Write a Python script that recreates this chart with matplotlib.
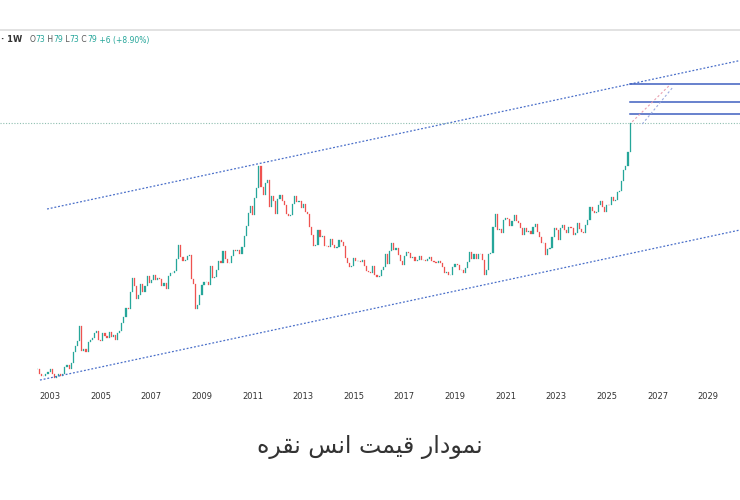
import matplotlib
matplotlib.use("Agg")
import matplotlib.pyplot as plt
import numpy as np
from matplotlib.lines import Line2D

closes = [4.9,4.6,4.5,4.5,4.6,4.7,
4.9,4.6,4.4,4.5,4.6,4.5,4.6,5.0,5.1,4.9,5.2,5.9,
6.3,6.7,7.9,6.0,6.1,5.9,6.6,6.8,6.9,7.3,7.5,6.8,
6.7,7.3,7.1,6.9,7.4,7.0,7.2,6.8,7.3,7.5,8.2,8.8,
9.7,9.6,11.6,13.7,12.5,10.8,11.3,12.8,11.6,12.5,14.0,12.9,
13.4,14.2,13.3,13.6,13.5,12.4,12.9,12.1,13.9,14.5,14.5,14.8,
16.9,19.8,17.3,16.5,16.8,17.6,17.7,13.5,12.8,9.6,10.1,11.3,
12.6,13.1,13.1,12.6,15.6,13.6,13.8,14.9,16.6,16.2,18.6,16.9,
16.2,16.1,17.5,18.7,18.5,18.7,18.0,19.3,22.0,24.5,28.6,30.9,
27.9,33.8,37.9,48.6,38.4,34.9,40.0,41.6,30.5,34.5,32.7,28.2,
33.2,34.9,32.6,31.3,28.2,27.5,27.8,31.4,34.6,32.2,32.8,30.0,
31.7,28.8,28.3,24.2,22.3,19.6,19.9,23.5,21.7,21.9,19.5,19.5,
19.3,21.2,19.8,19.1,19.3,21.0,20.4,19.5,17.1,16.1,15.5,15.6,
17.2,16.6,16.6,16.3,16.8,15.6,14.7,14.6,14.5,15.6,14.1,13.8,
14.0,15.0,15.4,18.0,16.0,18.6,20.3,18.7,19.2,17.7,16.5,15.9,
17.5,18.3,18.1,17.2,17.4,16.6,16.7,17.5,16.7,16.7,16.5,17.0,
17.3,16.5,16.4,16.2,16.5,16.1,15.5,14.4,14.6,14.2,14.2,15.5,
16.0,15.8,15.0,14.9,14.5,15.3,16.4,18.4,17.0,18.0,17.0,17.9,
18.0,16.8,14.2,15.0,18.0,18.2,24.4,28.1,23.6,23.9,22.7,26.4,
26.9,26.7,24.5,25.9,27.9,26.1,25.5,24.0,22.1,24.0,23.0,23.3,
22.4,24.2,25.1,23.0,21.7,20.3,20.3,17.8,19.0,19.2,21.7,24.0,
23.6,20.9,24.1,25.0,23.5,22.8,24.3,24.1,22.3,22.8,25.3,23.8,
22.9,22.7,24.9,26.4,30.4,29.1,28.6,28.9,31.1,32.7,30.6,28.9,
31.3,31.2,34.1,32.6,33.0,36.1,36.7,40.7,46.6,48.6,57.0,79.0]
start_year = 2002.5
upper_channel = ([2002.88, 2030.26], [29.8, 160.0])
lower_channel = ([2002.6, 2030.26], [4.3, 23.5])
resistance_levels = [122.5, 99.9, 87.3]
last_close = 79.0
tick_years = list(range(2003, 2030, 2))

fig = plt.figure(figsize=(7.4, 5.0), dpi=100)
ax = fig.add_axes([0, 112/500, 1, 358/500])
ax.set_yscale("log")
ax.set_xlim(2001.02, 2030.26)
ax.set_ylim(3.93, 226)

t = start_year + np.arange(len(closes)) / 12.0
c = np.array(closes)
o = np.concatenate([[c[0]], c[:-1]])
up = "#26a69a"; dn = "#ef5350"
for ti, oi, ci in zip(t, o, c):
    col = up if ci >= oi else dn
    lo, hi = min(oi, ci), max(oi, ci)
    ax.bar(ti, hi - lo, bottom=lo, width=0.045, color=col, edgecolor=col, linewidth=0.2)

ax.plot(*upper_channel, ls=(0, (1.5, 1.5)), color="#4a6fc9", lw=0.9)
ax.plot(*lower_channel, ls=(0, (1.5, 1.5)), color="#4a6fc9", lw=0.9)
ax.axhline(last_close, ls=(0, (1, 1.5)), color="#8fbfb0", lw=0.8)
for lv in resistance_levels:
    ax.plot([2025.93, 2030.26], [lv, lv], color="#3f5fc0", lw=1.1)
ax.plot([2026.0, 2027.45], [80, 120], ls=(0, (2, 2)), color="#e8a0b0", lw=0.8)
ax.plot([2026.4, 2027.6], [78, 118], ls=(0, (2, 2)), color="#9aa9dd", lw=0.8)

ax.set_xticks(tick_years)
ax.set_xticklabels([str(y) for y in tick_years], fontsize=6, color="#333333")
ax.tick_params(axis="x", length=0, pad=3)
ax.set_yticks([])
ax.yaxis.set_minor_locator(matplotlib.ticker.NullLocator())
for s in ax.spines.values():
    s.set_visible(False)

fig.add_artist(Line2D([0, 1], [1-30/500, 1-30/500], color="#dddddd", lw=1.2))
y_h = 1 - 40/500
fig.text(0.002, y_h, "· 1W", fontsize=6, color="#333333", weight="bold", va="center")
parts = [("O", "#555"), ("73", up), (" H", "#555"), ("79", up), (" L", "#555"), ("73", up),
         (" C", "#555"), ("79", up), (" +6 (+8.90%)", up)]
x = 0.04
r = fig.canvas.get_renderer()
for s, col in parts:
    tx = fig.text(x, y_h, s, fontsize=5.5, color=col, va="center")
    x += tx.get_window_extent(r).width / 740

logical = "\uFEE7\uFEE4\uFEEE\uFEA9\uFE8D\uFEAD \uFED7\uFEF4\uFEE4\uFE96 \uFE8D\uFEE7\uFEB2 \uFEE7\uFED8\uFEAE\uFEE9"
fig.text(0.5, 1 - 447/500, logical[::-1], fontsize=17, color="#333333",
         ha="center", va="center", family="DejaVu Sans")
fig.savefig("out.png", dpi=100)
